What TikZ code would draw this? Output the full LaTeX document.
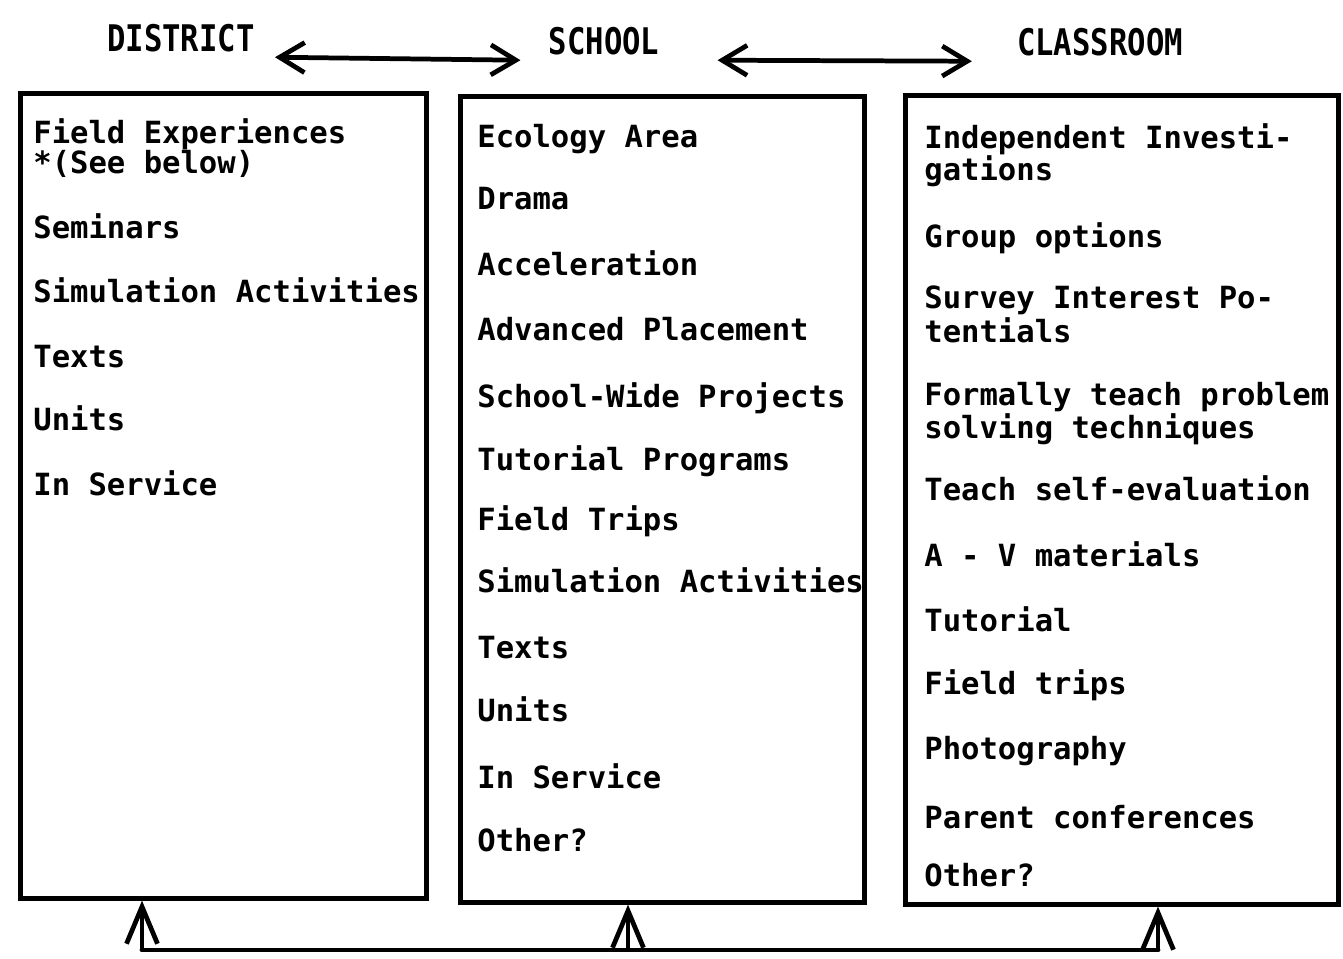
\documentclass[tikz,border=0pt]{standalone}
\usepackage{fontspec}
\setmonofont{DejaVu Sans Mono}
\usetikzlibrary{arrows.meta, positioning}
\newcommand\boxtextsize{\fontsize{17.4pt}{20pt}\selectfont}
\tikzset{
    panel/.style={rectangle, draw=black, line width=2.7pt, anchor=north west, inner sep=0pt},
    item/.style={anchor=base west, inner sep=0pt, font=\ttfamily\bfseries\boxtextsize},
    level/.style={inner sep=0pt, font=\ttfamily\bfseries\boxtextsize},
    link/.style={{Straight Barb[length=0.5cm,width=0.6cm]}-{Straight Barb[length=0.5cm,width=0.6cm]}, line width=2.7pt},
    feed/.style={-{Straight Barb[length=0.74cm,width=0.62cm]}, line width=2.7pt},
    bus/.style={line width=2.7pt, line cap=round}
}

\begin{document}
\begin{tikzpicture}[x=0.02cm, y=-0.02cm]
    \useasboundingbox (0,0) rectangle (1343,959);

    % Level headings
    \node[level] (district) at (181,38) {\scalebox{1}[1.2]{DISTRICT}};
    \node[level] (school) at (604,41) {\scalebox{1}[1.2]{SCHOOL}};
    \node[level] (classroom) at (1100,42) {\scalebox{1}[1.2]{CLASSROOM}};

    \draw[link] ([xshift=0.4cm,yshift=-0.1cm]district.south east) -- ([xshift=-0.56cm,yshift=-0.1cm]school.south west);
    \draw[link] ([xshift=1.16cm,yshift=-0.1cm]school.south east) -- ([xshift=-0.9cm,yshift=-0.1cm]classroom.south west);

    % Boxes
    \node[panel, minimum width=8.12cm, minimum height=16.1cm] (districtbox) at (18,91) {};
    \node[panel, minimum width=8.08cm, minimum height=16.12cm] (schoolbox) at (458,94) {};
    \node[panel, minimum width=8.66cm, minimum height=16.18cm] (classroombox) at (903,93) {};

    % District options
    \foreach \txt/\y [count=\i] in {Field Experiences/144, *(See below)/174, Seminars/239,
        Simulation Activities/303, Texts/368, Units/431, In Service/496}
        \node[item] (dist-\i) at (33,\y) {\txt};

    % School options
    \foreach \txt/\y [count=\i] in {Ecology Area/148, Drama/210, Acceleration/276,
        Advanced Placement/341, School-Wide Projects/408, Tutorial Programs/471,
        Field Trips/531, Simulation Activities/593, Texts/658, Units/721,
        In Service/788, Other?/851}
        \node[item] (sch-\i) at (477,\y) {\txt};

    % Classroom options
    \foreach \txt/\y [count=\i] in {Independent Investi-/149, gations/181, Group options/248,
        Survey Interest Po-/309, tentials/343, Formally teach problem/406,
        solving techniques/439, Teach self-evaluation/501, A - V materials/566,
        Tutorial/631, Field trips/694, Photography/759, Parent conferences/828,
        Other?/886}
        \node[item] (cls-\i) at (924,\y) {\txt};

    % Feedback line under the boxes
    \coordinate (busL) at (142,950);
    \coordinate (busM) at (628,950);
    \coordinate (busR) at (1158,950);
    \draw[bus] (busL) -- (busR);
    \draw[feed] (busL) -- (busL |- districtbox.south);
    \draw[feed] (busM) -- (busM |- schoolbox.south);
    \draw[feed] (busR) -- (busR |- classroombox.south);
\end{tikzpicture}
\end{document}
